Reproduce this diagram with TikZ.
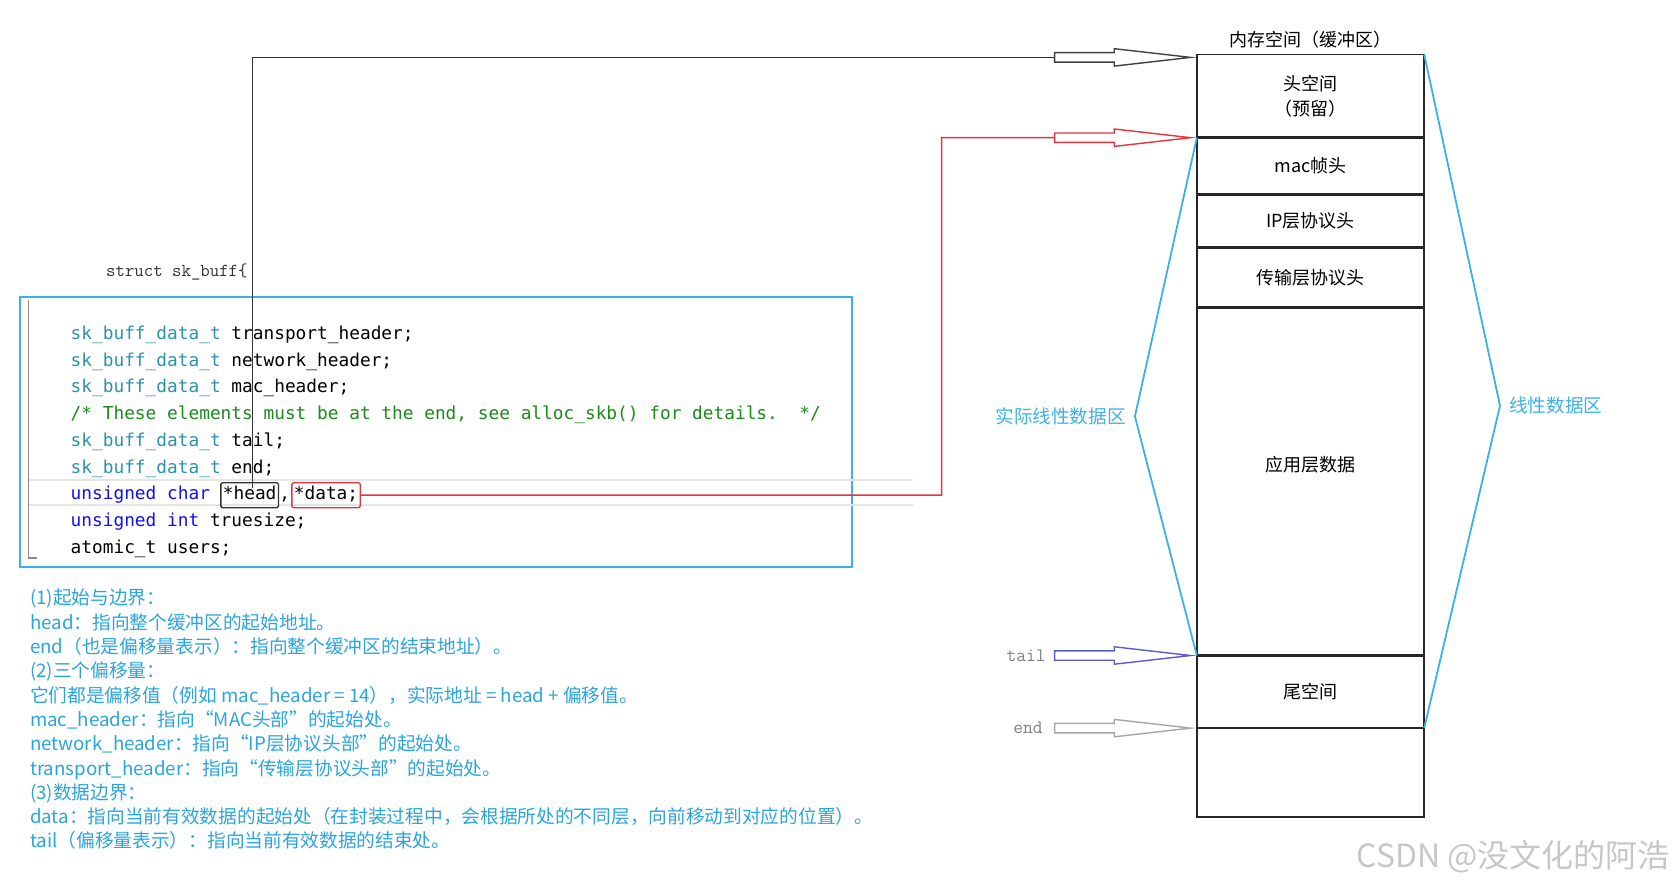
\documentclass[tikz,border=0pt]{standalone}
\usepackage{fontspec}
\setmainfont{Noto Sans CJK SC}
\newfontfamily\codefont{DejaVu Sans Mono}
\usetikzlibrary{positioning,shapes.arrows}

\definecolor{boxblue}{HTML}{3DB0E8}
\definecolor{noteblue}{HTML}{2AA4DE}
\definecolor{typecol}{HTML}{2B91AF}
\definecolor{kwcol}{HTML}{1010F0}
\definecolor{comcol}{HTML}{1A8A1A}
\definecolor{ptrred}{HTML}{E8323C}
\definecolor{tailcol}{HTML}{5A5AD8}

\newcommand{\ctype}[1]{\textcolor{typecol}{#1}}
\newcommand{\ckw}[1]{\textcolor{kwcol}{#1}}
\frenchspacing

\tikzset{
  codeln/.style={font=\codefont\fontsize{17.8pt}{20pt}\selectfont, anchor=west, inner sep=0pt, text height=13pt, text depth=4pt},
  ptrbox/.style={codeln, draw, line width=1.3pt, rounded corners=1.5pt, inner xsep=2pt, inner ysep=4pt},
  memcell/.style={draw=black!85, line width=1.6pt, minimum width=227.4pt, outer sep=0pt, align=center, font=\fontsize{18pt}{25.6pt}\selectfont},
  sepline/.style={black!85, line width=3pt},
  hollow/.style={single arrow, draw, line width=1.4pt, inner xsep=0pt, inner ysep=4pt, single arrow head extend=4pt, single arrow tip angle=13, minimum height=136pt},
  bracket/.style={boxblue, line width=1.8pt},
  sidelbl/.style={text=boxblue, font=\fontsize{18.6pt}{20pt}\selectfont, inner sep=0pt},
  ptrlbl/.style={text=black!50, font=\ttfamily\fontsize{19pt}{20pt}\selectfont, inner sep=0pt}
}

\begin{document}
\begin{tikzpicture}[x=1pt, y=-1pt]
\useasboundingbox (0,0) rectangle (1674,888);

% memory buffer
\node[memcell, minimum height=83.3pt, anchor=north west] (headsp) at (1196.8,54.4) {头空间\\（预留）};
\node[memcell, minimum height=56.6pt, below=0pt of headsp] (mac) {mac帧头};
\node[memcell, minimum height=53.4pt, below=0pt of mac] (ip) {IP层协议头};
\node[memcell, minimum height=59.8pt, below=0pt of ip] (trans) {传输层协议头};
\node[memcell, minimum height=348pt, below=0pt of trans] (app) {};
\node[memcell, minimum height=72.6pt, below=0pt of app] (tailsp) {尾空间};
\node[memcell, minimum height=88.6pt, below=0pt of tailsp] (rest) {};
\node[font=\fontsize{18pt}{20pt}\selectfont, inner sep=0pt] (applbl) at ([yshift=17pt]app.center) {应用层数据};
\node[above=6pt of headsp, font=\fontsize{18pt}{20pt}\selectfont, inner sep=0pt] (memtitle) {内存空间（缓冲区）};
\foreach \c in {mac,ip,trans,app,tailsp}
  \draw[sepline] (\c.north west) -- (\c.north east);

% linear data regions
\coordinate (lapex) at (1134.9,416.4);
\coordinate (rapex) at (1500,405.7);
\draw[bracket] (mac.north west) -- (lapex) -- (tailsp.north west);
\draw[bracket] (headsp.north east) -- (rapex) -- (tailsp.south east);
\node[sidelbl, left=9pt of lapex] (reallbl) {实际线性数据区};
\node[sidelbl, right=9pt of rapex] (linlbl) {线性数据区};

% pointer arrows
\node[hollow, draw=black!75, anchor=tip] (headarr) at ([yshift=-3pt]headsp.north west) {};
\node[hollow, draw=ptrred, anchor=tip] (dataarr) at (mac.north west) {};
\node[hollow, draw=tailcol, anchor=tip] (tailarr) at (tailsp.north west) {};
\node[hollow, draw=black!35, anchor=tip] (endarr) at (tailsp.south west) {};
\node[ptrlbl, left=8pt of tailarr.tail] (taillbl) {tail};
\node[ptrlbl, left=11pt of endarr.tail] (endlbl) {end};

% struct code
\node[draw=boxblue, line width=2pt, minimum width=831.7pt, minimum height=270.1pt, anchor=north west] (codebox) at (19.2,295.7) {};
\node[anchor=west, font=\ttfamily\fontsize{18.3pt}{20pt}\selectfont, text=black!80, inner sep=0pt] (structlbl) at (106,271.7) {struct sk\_buff\{};
\draw[black!10, line width=1.2pt] (28.7,480) -- (913,480) (28.7,505) -- (913,505);
\draw[black!45, line width=1.2pt] (28.7,300) -- (28.7,558) -- (37,558);
\foreach \ln [count=\i] in {
  {\ctype{sk\_buff\_data\_t} transport\_header;},
  {\ctype{sk\_buff\_data\_t} network\_header;},
  {\ctype{sk\_buff\_data\_t} mac\_header;},
  {\textcolor{comcol}{/* These elements must be at the end, see alloc\_skb() for details.~~*/}},
  {\ctype{sk\_buff\_data\_t} tail;},
  {\ctype{sk\_buff\_data\_t} end;},
  {\ckw{unsigned char}},
  {\ckw{unsigned int} truesize;},
  {atomic\_t users;}}
  \node[codeln] (code\i) at (70.5,335+26.7*\i-26.7) {\ln};
\node[ptrbox, draw=black!80, right=10pt of code7] (headbox) {*head};
\node[codeln, right=0pt of headbox] (comma) {,};
\node[ptrbox, draw=ptrred, right=1pt of comma] (databox) {*data;};

% pointer lines
\coordinate (redturn) at (941.6,137.7);
\draw[black!80, line width=1.5pt] ([xshift=3pt,yshift=-6pt]headbox.north) |- (headarr.tail);
\draw[ptrred, line width=1.5pt] (databox.east) -| (redturn) -- (dataarr.tail);

% notes
\node[anchor=north west, align=left, inner sep=0pt, text=noteblue, font=\fontsize{18.7pt}{24.3pt}\selectfont] (notes) at (29.9,589) {%
(1)起始与边界：\\
head：指向整个缓冲区的起始地址。\\
end（也是偏移量表示）：指向整个缓冲区的结束地址）。\\
(2)三个偏移量：\\
它们都是偏移值（例如 mac\_header = 14），实际地址 = head + 偏移值。\\
mac\_header：指向“MAC头部”的起始处。\\
network\_header：指向“IP层协议头部”的起始处。\\
transport\_header：指向“传输层协议头部”的起始处。\\
(3)数据边界：\\
data：指向当前有效数据的起始处（在封装过程中，会根据所处的不同层，向前移动到对应的位置）。\\
tail（偏移量表示）：指向当前有效数据的结束处。};

\node[anchor=east, text=black!22, font=\fontsize{32pt}{34pt}\selectfont, inner sep=0pt] (wmark) at (1670,857) {CSDN @没文化的阿浩};
\end{tikzpicture}
\end{document}
